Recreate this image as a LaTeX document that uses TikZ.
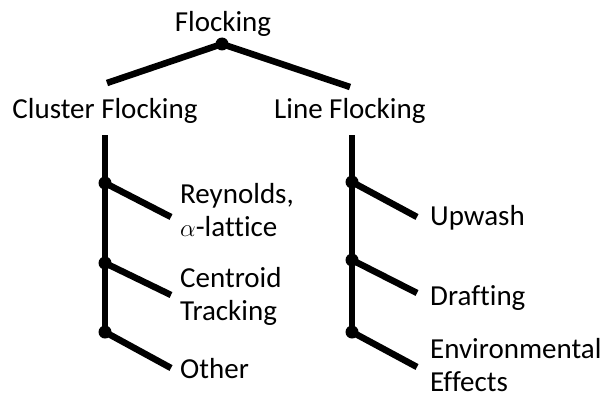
\documentclass[tikz,border=0pt]{standalone}
\usepackage{fontspec}
\setmainfont[Ligatures = NoCommon]{Carlito}
\usetikzlibrary{positioning}

\begin{document}
\begin{tikzpicture}[x = 1pt, y = -1pt,
		font = \fontsize{29}{33}\selectfont,
		branch/.style = {line width = 6.5pt},
		joint/.style = {circle, fill, inner sep = 0pt, minimum size = 13pt},
		heading/.style = {anchor = base, inner sep = 0pt},
		leaf/.style = {anchor = base west, align = left, inner sep = 0pt}]
	\def\xClusterTrunk{105};
	\def\xLineTrunk{352};
	\def\xClusterEnd{171};
	\def\xLineEnd{417};
	\def\yTrunkTop{135};
	\useasboundingbox (0,0) rectangle (604,396);

	\begin{scope}
		\node [heading] (flocking) at (223,32) {Flocking};
		\node [joint] (root) at (222,44) {};
		\coordinate (clusterTop) at (107,83);
		\coordinate (lineTop) at (350,87);
		\draw [branch] (clusterTop) -- (root.center) -- (lineTop);
		\node [heading] (cluster) at (105,118) {Cluster Flocking};
		\node [heading, anchor = base west] (line) at (274,118) {Line Flocking};
	\end{scope}

	% the base of a two-line leaf is the baseline of its last line
	\begin{scope}
		\coordinate (clusterTrunk) at (\xClusterTrunk,\yTrunkTop);
		\node [joint] (reynoldsJoint) at (\xClusterTrunk,183) {};
		\node [joint] (centroidJoint) at (\xClusterTrunk,263) {};
		\node [joint] (otherJoint) at (\xClusterTrunk,332) {};
		\draw [branch] (clusterTrunk) -- (otherJoint.center);
		\coordinate (reynoldsEnd) at (\xClusterEnd,217);
		\coordinate (centroidEnd) at (\xClusterEnd,295);
		\coordinate (otherEnd) at (\xClusterEnd,368);
		\draw [branch] (reynoldsJoint.center) -- (reynoldsEnd);
		\draw [branch] (centroidJoint.center) -- (centroidEnd);
		\draw [branch] (otherJoint.center) -- (otherEnd);
		\node [leaf] (reynolds) at (180,236) {Reynolds,\\$\alpha$-lattice};
		\node [leaf] (centroid) at (180,320) {Centroid\\Tracking};
		\node [leaf] (other) at (180,378) {Other};
	\end{scope}

	\begin{scope}
		\coordinate (lineTrunk) at (\xLineTrunk,\yTrunkTop);
		\node [joint] (upwashJoint) at (\xLineTrunk,182) {};
		\node [joint] (draftingJoint) at (\xLineTrunk,260) {};
		\node [joint] (environmentalJoint) at (\xLineTrunk,332) {};
		\draw [branch] (lineTrunk) -- (environmentalJoint.center);
		\coordinate (upwashEnd) at (\xLineEnd,217);
		\coordinate (draftingEnd) at (\xLineEnd,293);
		\coordinate (environmentalEnd) at (\xLineEnd,367);
		\draw [branch] (upwashJoint.center) -- (upwashEnd);
		\draw [branch] (draftingJoint.center) -- (draftingEnd);
		\draw [branch] (environmentalJoint.center) -- (environmentalEnd);
		\node [leaf] (upwash) at (430,225) {Upwash};
		\node [leaf] (drafting) at (430,305) {Drafting};
		\node [leaf] (environmental) at (430,391) {Environmental\\Effects};
	\end{scope}
\end{tikzpicture}
\end{document}
